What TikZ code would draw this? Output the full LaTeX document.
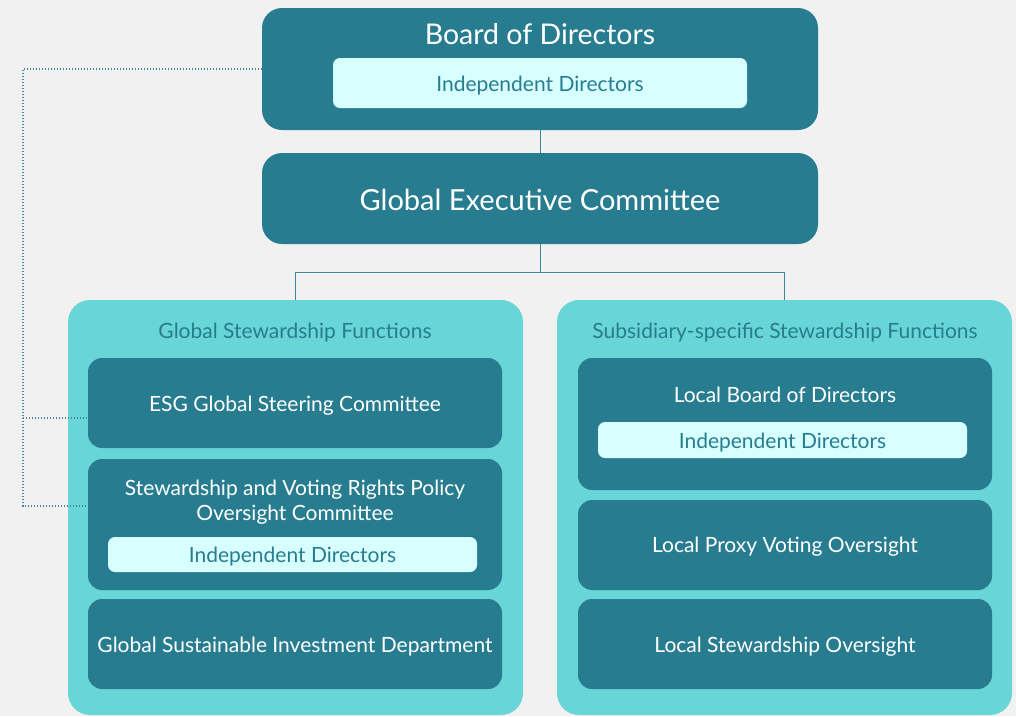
\documentclass[tikz,border=0pt]{standalone}
\usepackage{fontspec}
\setmainfont{Lato}
\usepackage{tikz}

\definecolor{bgcol}{HTML}{F1F1F1}
\definecolor{darkteal}{HTML}{277D8F}
\definecolor{panelcol}{HTML}{68D5D7}
\definecolor{palecol}{HTML}{D7FFFF}
\definecolor{linecol}{HTML}{3F8798}

\begin{document}
\begin{tikzpicture}[
  x=1pt, y=-1pt,
  darkbox/.style={rectangle, fill=darkteal, rounded corners=20pt, inner sep=0pt},
  innerbox/.style={rectangle, fill=darkteal, rounded corners=14pt, inner sep=0pt,
    minimum width=414pt, minimum height=90pt, text=white, align=center,
    font=\fontsize{21}{25}\selectfont},
  palebox/.style={rectangle, fill=palecol, rounded corners=7pt, inner sep=0pt,
    text=darkteal, font=\fontsize{21}{23}\selectfont},
  panel/.style={rectangle, fill=panelcol, rounded corners=22pt, inner sep=0pt,
    minimum width=455pt, minimum height=415pt},
  bigtext/.style={text=white, font=\fontsize{28.5}{30}\selectfont},
  paneltitle/.style={text=darkteal, font=\fontsize{21}{23}\selectfont},
  link/.style={draw=linecol, line width=1pt},
  dotlink/.style={draw=linecol, line width=1.2pt, dash pattern=on 1pt off 2pt}
]
\fill[bgcol] (0,0) rectangle (1016,716);
\useasboundingbox (0,0) rectangle (1016,716);

% top of the chart
\node[darkbox, minimum width=556pt, minimum height=122pt] (board) at (540,69) {};
\node[bigtext] (boardtitle) at (540,34) {Board of Directors};
\node[palebox, minimum width=414pt, minimum height=50pt] (boardind) at (540,83) {};
\node[palebox, fill=none] (boardindtext) at (540,85.5) {Independent Directors};

\node[darkbox, minimum width=556pt, minimum height=91pt] (gec) at (540,198.5) {};
\node[bigtext, font=\fontsize{29}{30}\selectfont] (gectitle) at (540,199.5) {Global Executive Committee};

% the two panels
\node[panel] (lpanel) at (295.5,507.5) {};
\node[paneltitle] (ltitle) at (295,332.5) {Global Stewardship Functions};
\node[panel] (rpanel) at (784.5,507.5) {};
\node[paneltitle] (rtitle) at (785,332.5) {Subsidiary-specific Stewardship Functions};

% left panel
\node[innerbox] (esg) at (295,403) {};
\node[innerbox, fill=none] (esgtext) at (295,406) {ESG Global Steering Committee};
\node[innerbox, minimum height=131pt] (svr) at (295,524.5) {};
\node[text=white, align=center, font=\fontsize{21}{25}\selectfont] (svrtitle) at (295,502.5)
  {Stewardship and Voting Rights Policy\\Oversight Committee};
\node[palebox, minimum width=369pt, minimum height=35pt] (svrind) at (292.5,554.5) {};
\node[palebox, fill=none] (svrindtext) at (292.5,557) {Independent Directors};
\node[innerbox] (gsi) at (295,644) {};
\node[innerbox, fill=none] (gsitext) at (295,646.5) {Global Sustainable Investment Department};

% right panel
\node[innerbox, minimum height=132pt] (lbd) at (785,424) {};
\node[text=white, font=\fontsize{21}{25}\selectfont] (lbdtitle) at (785,394.5) {Local Board of Directors};
\node[palebox, minimum width=369pt, minimum height=36pt] (lbdind) at (782.5,440) {};
\node[palebox, fill=none] (lbdindtext) at (782.5,442.5) {Independent Directors};
\node[innerbox] (lpv) at (785,545) {};
\node[innerbox, fill=none] (lpvtext) at (785,547) {Local Proxy Voting Oversight};
\node[innerbox] (lso) at (785,644) {};
\node[innerbox, fill=none] (lsotext) at (785,646.5) {Local Stewardship Oversight};

% connectors
\coordinate (split) at (540,272);
\draw[link] (board.south) -- (gec.north);
\draw[link] (gec.south) -- (split) -| (lpanel.north);
\draw[link] (split) -| (rpanel.north);

% dotted reporting lines
\coordinate (dtop) at (23,69);
\coordinate (dmid) at (23,418);
\coordinate (dbot) at (23,506);
\draw[dotlink] (board.west) -- (dtop) -- (dbot) -- (svr.west |- dbot);
\draw[dotlink] (dmid) -- (esg.west |- dmid);
\end{tikzpicture}
\end{document}
